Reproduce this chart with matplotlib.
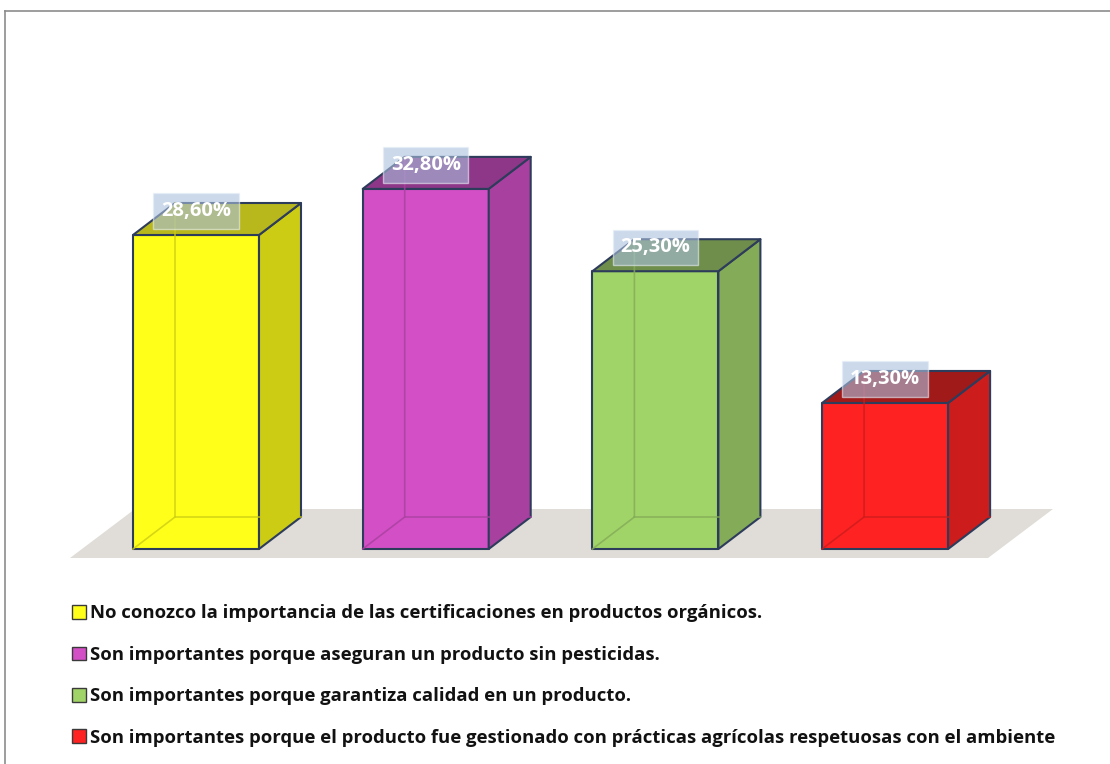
import matplotlib
matplotlib.use('Agg')
import matplotlib.pyplot as plt
from matplotlib.patches import Polygon, Patch
from matplotlib.lines import Line2D

# survey answers and their shares (%)
categories = [
    'No conozco la importancia de las certificaciones en productos orgánicos.',
    'Son importantes porque aseguran un producto sin pesticidas.',
    'Son importantes porque garantiza calidad en un producto.',
    'Son importantes porque el producto fue gestionado con prácticas agrícolas respetuosas con el ambiente',
]
values = [28.6, 32.8, 25.3, 13.3]
labels = ['28,60%', '32,80%', '25,30%', '13,30%']

# front / side / top shades for each bar
front_colors = ['#ffff1a', '#d34fc6', '#a0d468', '#ff2222']
side_colors = ['#cccc14', '#a8409f', '#84ab57', '#cc1c1c']
top_colors = ['#b8b81c', '#8e3788', '#6f8e4b', '#a01a1a']
edge_color = '#2e3c5c'

plt.rcParams['font.family'] = ['Open Sans', 'DejaVu Sans']

W, H = 1110, 764
fig = plt.figure(figsize=(W / 100, H / 100), dpi=100)
ax = fig.add_axes([0, 0, 1, 1])

# pixel scale of the plot area: one category step and one percent unit
px_x = 229.7
px_y = 314 / 28.6
ax.set_xlim(-196 / px_x, (W - 196) / px_x)
ax.set_ylim(-(H - 549) / px_y, 549 / px_y)
ax.axis('off')

half = 63 / px_x       # half bar width
ddx = 42 / px_x        # depth offset (x)
ddy = 32 / px_y        # depth offset (y)

# floor plane under the bars
n = len(values)
floor = Polygon([(-0.5486, -9 / px_y), (n - 1 + 0.448, -9 / px_y),
                 (n - 1 + 0.731, 40 / px_y), (-0.2656, 40 / px_y)],
                closed=True, facecolor='#e0ddd8', edgecolor='none', zorder=1)
ax.add_patch(floor)

for i, v in enumerate(values):
    x0, x1 = i - half, i + half
    # faces
    front = Polygon([(x0, 0), (x1, 0), (x1, v), (x0, v)],
                    facecolor=front_colors[i], edgecolor=edge_color, lw=1.5, zorder=3)
    side = Polygon([(x1, 0), (x1 + ddx, ddy), (x1 + ddx, v + ddy), (x1, v)],
                   facecolor=side_colors[i], edgecolor=edge_color, lw=1.5, zorder=3)
    top = Polygon([(x0, v), (x1, v), (x1 + ddx, v + ddy), (x0 + ddx, v + ddy)],
                  facecolor=top_colors[i], edgecolor=edge_color, lw=1.5, zorder=3)
    for p in (front, side, top):
        p.set_joinstyle('round')
        ax.add_patch(p)
    # hidden edges seen through the glassy bars
    hx = [x0, x0 + ddx, x0 + ddx]
    hy = [0, ddy, v + ddy]
    ax.plot(hx, hy, color=side_colors[i], lw=1.2, alpha=0.8, zorder=4)
    ax.plot([x0 + ddx, x1 + ddx], [ddy, ddy], color=side_colors[i], lw=1.2, alpha=0.8, zorder=4)
    # value label
    ax.text(i, v + 24 / px_y, labels[i], ha='center', va='center', color='white',
            fontsize=14.5, fontweight='bold', zorder=6,
            bbox=dict(boxstyle='square,pad=0.38', facecolor='#a9c0de', alpha=0.6,
                      edgecolor='#e8eef6', lw=1))

handles = [Patch(facecolor=c, edgecolor='#3a3a3a', lw=1) for c in front_colors]
leg = ax.legend(handles, categories, loc='center left', bbox_to_anchor=(72 / W, 1 - 675.5 / H),
                frameon=False, fontsize=13.3, handlelength=0.75, handleheight=0.75,
                handletextpad=0.2, labelspacing=1.27, borderaxespad=0, borderpad=0)
for t in leg.get_texts():
    t.set_fontweight('bold')
    t.set_color('#111111')

# chart frame (top and left edges)
fig.add_artist(Line2D([5 / W, 1], [1 - 11 / H, 1 - 11 / H], color='#8c8c8c', lw=1.2))
fig.add_artist(Line2D([5 / W, 5 / W], [1 - 11 / H, 0], color='#8c8c8c', lw=1.2))

fig.savefig('out.png', dpi=100)
